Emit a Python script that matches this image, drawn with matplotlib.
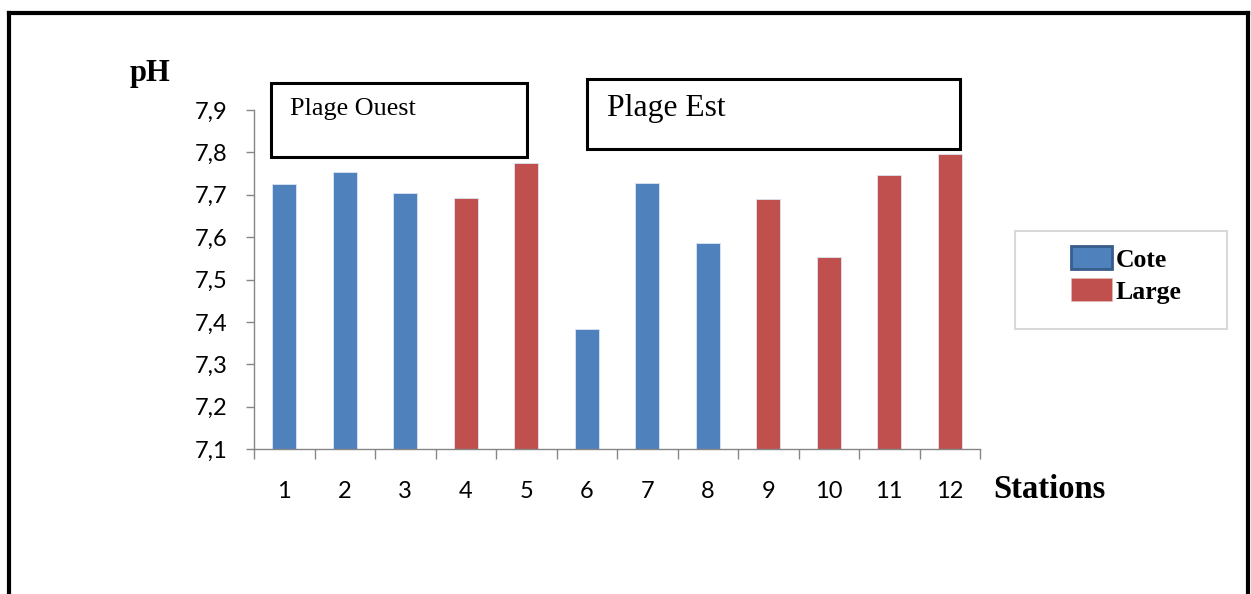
import matplotlib.pyplot as plt
from matplotlib.patches import Patch, Rectangle
from matplotlib.lines import Line2D

# Donnees: pH par station
stations = [1, 2, 3, 4, 5, 6, 7, 8, 9, 10, 11, 12]
ph = [7.725, 7.753, 7.704, 7.692, 7.775, 7.383, 7.728, 7.585, 7.691, 7.553, 7.746, 7.797]
zone = ['Cote', 'Cote', 'Cote', 'Large', 'Large', 'Cote', 'Cote', 'Cote',
        'Large', 'Large', 'Large', 'Large']
yticks = [7.1, 7.2, 7.3, 7.4, 7.5, 7.6, 7.7, 7.8, 7.9]
ytick_labels = ['7,1', '7,2', '7,3', '7,4', '7,5', '7,6', '7,7', '7,8', '7,9']

couleurs = {'Cote': '#4f81bd', 'Large': '#c0504d'}
W, H = 1251, 594


def fx(px):
    return px / W


def fy(py):
    return 1 - py / H


fig = plt.figure(figsize=(W / 100, H / 100), dpi=100)

# Cadre noir autour du graphique (sans bord inferieur)
for xs, ys in [([9, 9], [13, 600]), ([9, 1248], [13, 13]), ([1248, 1248], [13, 600])]:
    fig.add_artist(Line2D([fx(x) for x in xs], [fy(y) for y in ys],
                          color='black', lw=3, transform=fig.transFigure))

ax = fig.add_axes([fx(254), fy(449), fx(980) - fx(254), fy(110) - fy(449)])

ax.bar(stations, ph, width=0.4, bottom=0,
       color=[couleurs[z] for z in zone], edgecolor='#dce6f2', linewidth=0.6)

ax.set_xlim(0.5, 12.5)
ax.set_ylim(7.1, 7.9)

# Axes gris
for s in ['top', 'right']:
    ax.spines[s].set_visible(False)
for s in ['left', 'bottom']:
    ax.spines[s].set_color('#868686')
    ax.spines[s].set_linewidth(1.0)

ax.set_yticks(yticks)
ax.set_yticklabels(ytick_labels, family='Lato', fontsize=17)
ax.tick_params(axis='y', length=6, width=1, color='#868686', pad=13)

ax.set_xticks(stations)
ax.set_xticklabels([str(s) for s in stations], family='Lato', fontsize=17)
ax.set_xticks([s + 0.5 for s in [0] + stations], minor=True)
ax.tick_params(axis='x', which='major', length=0, pad=23)
ax.tick_params(axis='x', which='minor', length=7, width=1, color='#868686')

# Titres des axes
fig.text(fx(130), fy(74), 'pH', family='Liberation Serif', weight='bold',
         fontsize=22, ha='left', va='center')
fig.text(fx(993), fy(490), 'Stations', family='Liberation Serif', weight='bold',
         fontsize=23.5, ha='left', va='center')

# Encadres Plage Ouest / Plage Est
fig.add_artist(Rectangle((fx(271), fy(157)), fx(527) - fx(271), fy(83) - fy(157),
                         fill=False, edgecolor='black', lw=2.2, transform=fig.transFigure))
fig.add_artist(Rectangle((fx(587), fy(149)), fx(960) - fx(587), fy(79) - fy(149),
                         fill=False, edgecolor='black', lw=2.2, transform=fig.transFigure))
fig.text(fx(290), fy(109), 'Plage Ouest', family='Liberation Serif',
         fontsize=18.8, ha='left', va='center')
fig.text(fx(607), fy(108), 'Plage Est', family='Liberation Serif',
         fontsize=22.8, ha='left', va='center')

# Legende
fig.add_artist(Rectangle((fx(1015), fy(329)), fx(1227) - fx(1015), fy(231) - fy(329),
                         fill=True, facecolor='white', edgecolor='#d9d9d9', lw=1.5,
                         transform=fig.transFigure))
handles = [Patch(facecolor=couleurs['Cote'], edgecolor='#385d8a', lw=2, label='Cote'),
           Patch(facecolor=couleurs['Large'], edgecolor='#e6b9b8', lw=0.5, label='Large')]
fig.legend(handles=handles, loc='center', bbox_to_anchor=(fx(1126), fy(275)),
           frameon=False, borderpad=0, handlelength=1.6, handleheight=1.0,
           handletextpad=0.15, labelspacing=0.25,
           prop={'family': 'Liberation Serif', 'weight': 'bold', 'size': 18.5})

plt.savefig('out.png', dpi=100)
